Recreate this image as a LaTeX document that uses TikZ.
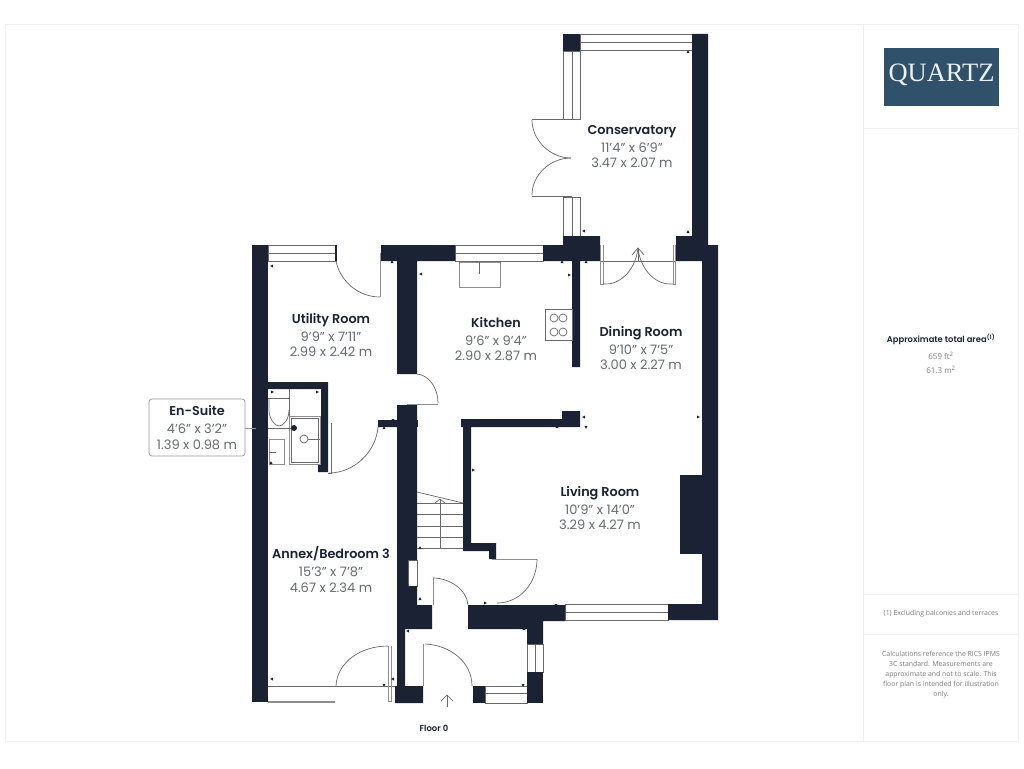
\documentclass[tikz,border=0pt]{standalone}
\usepackage{fontspec}
\setmainfont{Poppins}[BoldFont={Poppins SemiBold}]
\newfontfamily\opn{Open Sans}
\newfontfamily\logofont{Liberation Serif}
\definecolor{wallc}{HTML}{1B2234}
\definecolor{linec}{HTML}{6A6A6E}
\definecolor{dimc}{HTML}{686B71}
\definecolor{framec}{HTML}{EFEFF1}
\definecolor{logoc}{HTML}{2F5169}
\definecolor{panelc}{HTML}{7E7E82}
\tikzset{
 wall/.style={fill=wallc,draw=none},
 thin line/.style={draw=linec,line width=0.7pt},
 win/.style={draw=linec,line width=0.8pt,fill=white},
 dbl/.style={draw=linec!75,line width=0.9pt,fill=white},
 panelline/.style={draw=framec,line width=1pt},
 title/.style={font=\fontsize{12.8}{15}\selectfont\bfseries,text=wallc,inner sep=0pt,anchor=base},
 dimtext/.style={font=\fontsize{13}{15}\selectfont,text=dimc,inner sep=0pt,anchor=base},
 small/.style={font=\opn\fontsize{6.9}{8}\selectfont,text=panelc,inner sep=0pt,anchor=center}
}
\newcommand{\mk}[3]{\fill[wallc,shift={(#1,#2)},rotate=#3] (0,-1.5) -- (0,1.5) -- (2.8,0) -- cycle;}
\begin{document}
\begin{tikzpicture}[x=1pt,y=-1pt]
\useasboundingbox (0,0) rectangle (1024,768);
\fill[white] (0,0) rectangle (1024,768);
% frame
\draw[panelline] (5,25) rectangle (1018,741);
\draw[panelline] (863,25) -- (863,741);
\draw[panelline] (863,128) -- (1018,128);
\draw[panelline] (863,594) -- (1018,594);
\draw[panelline] (863,634) -- (1018,634);
% logo
\fill[logoc] (884,48) rectangle (999,106);
\node (logo) at (941.5,74.5) [inner sep=0pt,text=white!92!logoc,font=\logofont\fontsize{26.5}{30}\selectfont] {QUARTZ};
% windows
\draw[win] (580,34) rectangle (692,50); \draw[thin line] (580,42) -- (692,42);
\draw[win] (563,51) rectangle (580,119); \draw[thin line] (572,51) -- (572,119);
\draw[win] (563,197) rectangle (580,236); \draw[thin line] (572,197) -- (572,236);
\draw[win] (268,245) rectangle (336,261); \draw[thin line] (268,253) -- (336,253);
\draw[win] (455,245) rectangle (543,261); \draw[thin line] (455,253) -- (543,253);
\draw[win] (565,604) rectangle (668,620); \draw[thin line] (565,612) -- (668,612);
\draw[win] (527,644) rectangle (543,672); \draw[thin line] (535,644) -- (535,672);
\draw[win] (485,686) rectangle (527,703); \draw[thin line] (485,693) -- (527,693);
\draw[dbl,line width=1.2pt] (268,702) -- (335,702);
\draw[thin line] (268,686) -- (397,686);
\draw[win] (408,560) rectangle (417,586);
% walls
\fill[wall] (252,245) rectangle (268,702);
\fill[wall] (381,245) -- (455,245) -- (455,261) -- (417,261) -- (417,374) -- (397,374) -- (397,261) -- (381,261) -- cycle;
\fill[wall] (335,245) rectangle (337,261);
\fill[wall] (543,245) -- (563,245) -- (563,236) -- (600,236) -- (600,261) -- (580,261) -- (580,367) -- (572,367) -- (572,261) -- (543,261) -- cycle;
\fill[wall] (563,34) rectangle (580,51);
\fill[wall] (692,34) -- (708,34) -- (708,245) -- (718,245) -- (718,620) -- (668,620) -- (668,604) -- (702,604) -- (702,261) -- (676,261) -- (676,236) -- (692,236) -- cycle;
\fill[wall] (680,475) rectangle (702,554);
\fill[wall] (378,420) -- (397,420) -- (397,405) -- (417,405) -- (417,560) -- (408,560) -- (408,586) -- (417,586) -- (417,605) -- (432,605) -- (432,629) -- (405,629) -- (405,686) -- (423,686) -- (423,703) -- (395,703) -- (395,686) -- (397,686) -- (397,427) -- (378,427) -- cycle;
\fill[wall] (417,420) rectangle (418,427);
\fill[wall] (268,382) -- (328,382) -- (328,472) -- (318,472) -- (318,464) -- (321,464) -- (321,389) -- (268,389) -- cycle;
\fill[wall] (461,419) -- (562,419) -- (562,411) -- (580,411) -- (580,427) -- (471,427) -- (471,543) -- (496,543) -- (496,559) -- (489,559) -- (489,551) -- (463,551) -- (463,427) -- (461,427) -- cycle;
\fill[wall] (468,605) -- (565,605) -- (565,621) -- (543,621) -- (543,644) -- (527,644) -- (527,629) -- (468,629) -- cycle;
\fill[wall] (527,672) rectangle (543,703);
\fill[wall] (473,686) rectangle (485,703);
% conservatory doors
\draw[thin line] (532,119) -- (572,119);
\draw[thin line] (532,196) -- (572,196);
\draw[thin line] (532,120) .. controls (532,140) and (550,158) .. (571,158);
\draw[thin line] (532,195) .. controls (532,175) and (550,158) .. (571,158);
% french doors to dining room
\draw[thin line] (600,261) -- (676,261);
\draw[dbl,fill=none] (600.5,245) -- (600.5,284) -- (603,284) -- (603,245);
\draw[dbl,fill=none] (675.5,245) -- (675.5,284) -- (673,284) -- (673,245);
\draw[thin line] (603,284) -- (606,284) .. controls (622,284) and (636,268) .. (638,248);
\draw[thin line] (673,284) -- (670,284) .. controls (654,284) and (640,268) .. (638,248);
\draw[thin line] (638,248) -- (638,261);
\draw[thin line] (632,255) -- (638,248) -- (644,255);
% utility door
\draw[thin line] (336,261) .. controls (340,281) and (358,297) .. (380,297);
\draw[dbl,fill=none] (380,253) -- (380,297);
% kitchen door
\draw[thin line] (417,374) .. controls (429,375) and (438,388) .. (438,403);
\draw[dbl,fill=none] (407,404) -- (438,404);
% annex door from utility
\draw[thin line] (378,427) .. controls (376,452) and (354,473) .. (329,473);
\draw[thin line] (331,423) -- (331,473) -- (328,473);
% annex front door
\draw[dbl,fill=none] (388,646) -- (388,701) -- (391,701) -- (391,646);
\draw[thin line] (388,646) .. controls (361,646) and (337,662) .. (336,686);
% entrance
\draw[dbl,fill=none] (423,644) -- (423,686);
\draw[thin line] (425,644) .. controls (450,645) and (472,662) .. (472,686);
% inner hall door
\draw[dbl,fill=none] (433,578) -- (433,605);
\draw[thin line] (433,578) .. controls (450,578) and (467,590) .. (468,605);
% living room door
\draw[dbl,fill=none] (492,559) -- (537,559);
\draw[thin line] (537,559) .. controls (537,583) and (520,603) .. (497,603);
% stairs
\draw[thin line] (417,492) -- (463,503);
\foreach \yy in {514,526,537,548} \draw[thin line] (417,\yy) -- (463,\yy);
\draw[thin line] (417,503) -- (463,503);
\draw[thin line] (440,548) -- (440,499);
\draw[thin line] (435,503) -- (440,499) -- (445,503);
% entrance arrow
\draw[thin line] (447,707) -- (447,695);
\draw[thin line] (441,701) -- (447,695) -- (453,701);
% sink and hob
\draw[dbl] (459,262) rectangle (500,287);
\draw[thin line] (479,262) -- (479,274);
\draw[thin line,fill=white] (545,309) rectangle (572,340);
\foreach \cx/\cy in {554/318,563/318,554/332,563/332} \draw[thin line] (\cx,\cy) circle (4);
% en-suite fittings
\draw[thin line] (268,398) -- (289,398);
\draw[thin line] (289,389) -- (289,416);
\draw[thin line] (269,398) -- (269,410) .. controls (269,420) and (276,426) .. (279,426) .. controls (283,426) and (289,420) .. (289,410);
\draw[dbl] (289,416) rectangle (320,464);
\draw[thin line] (291,418) rectangle (318,462);
\draw[thin line] (268,428) -- (294,428);
\fill[wallc] (294,428) circle (3);
\draw[thin line] (304,439) circle (4);
\draw[thin line] (308,439) -- (320,439);
\draw[dbl] (269,439) rectangle (284,464);
\draw[thin line] (269,452) -- (276,452);
% small marks
\mk{688}{53}{90}\mk{585}{231}{180}\mk{688}{233}{90}\mk{562}{263}{90}\mk{586}{263}{90}\mk{568}{275}{0}
\mk{273}{266}{180}\mk{392}{263}{90}\mk{422}{274}{180}\mk{271}{392}{0}\mk{316}{392}{0}
\mk{393}{419}{270}\mk{384}{429}{90}\mk{271}{464}{90}\mk{472}{470}{0}
\mk{420}{549}{90}\mk{420}{600}{90}\mk{484}{603}{0}\mk{556}{604}{270}\mk{409}{631}{180}\mk{524}{630}{90}
\mk{273}{679}{180}\mk{384}{684}{270}\mk{394}{679}{180}\mk{523}{684}{270}
\mk{559}{419}{270}\mk{585}{417}{180}\mk{586}{426}{270}\mk{557}{428}{90}\mk{697}{417}{0}
% en-suite label
\draw[draw=linec!70,line width=0.7pt,rounded corners=3pt] (149,399) rectangle (245,456);
\coordinate (leader) at (256,428);
\draw[draw=linec!70,line width=0.7pt] (245,428) -- (leader);
\node[title] (t1) at (197,415) {En-Suite};
\node[dimtext] (d1a) at (197,433) {4'6" x 3'2"};
\node[dimtext] (d1b) at (197,449) {1.39 x 0.98 m};
% room labels
\node[title] (t2) at (632,134) {Conservatory};
\node[dimtext] (d2a) at (632,152) {11'4" x 6'9"};
\node[dimtext] (d2b) at (632,167) {3.47 x 2.07 m};
\node[title] (t3) at (331,323) {Utility Room};
\node[dimtext] (d3a) at (331,341) {9'9" x 7'11"};
\node[dimtext] (d3b) at (331,356) {2.99 x 2.42 m};
\node[title] (t4) at (496,327) {Kitchen};
\node[dimtext] (d4a) at (496,345) {9'6" x 9'4"};
\node[dimtext] (d4b) at (496,360) {2.90 x 2.87 m};
\node[title] (t5) at (641,336) {Dining Room};
\node[dimtext] (d5a) at (641,354) {9'10" x 7'5"};
\node[dimtext] (d5b) at (641,369) {3.00 x 2.27 m};
\node[title] (t6) at (600,496) {Living Room};
\node[dimtext] (d6a) at (600,514) {10'9" x 14'0"};
\node[dimtext] (d6b) at (600,529) {3.29 x 4.27 m};
\node[title] (t7) at (331,558) {Annex/Bedroom 3};
\node[dimtext] (d7a) at (331,576) {15'3" x 7'8"};
\node[dimtext] (d7b) at (331,592) {4.67 x 2.34 m};
\node[inner sep=0pt,text=wallc,font=\fontsize{8.5}{10}\selectfont\bfseries] (floor) at (434,728) {Floor 0};
% panel text
\node[inner sep=0pt,text=wallc,font=\fontsize{8.4}{10}\selectfont\bfseries] (area) at (941,339) {Approximate total area\textsuperscript{(1)}};
\node[small,font=\opn\fontsize{8}{9}\selectfont] (ft) at (941,356) {659 ft\textsuperscript{2}};
\node[small,font=\opn\fontsize{8}{9}\selectfont] (m) at (941,370) {61.3 m\textsuperscript{2}};
\node[small] (excl) at (941,614) {(1) Excluding balconies and terraces};
\node[small] (c1) at (941,654) {Calculations reference the RICS IPMS};
\node[small] (c2) at (941,664) {3C standard. Measurements are};
\node[small] (c3) at (941,675) {approximate and not to scale. This};
\node[small] (c4) at (941,685) {floor plan is intended for illustration};
\node[small] (c5) at (941,695) {only.};
\end{tikzpicture}
\end{document}
